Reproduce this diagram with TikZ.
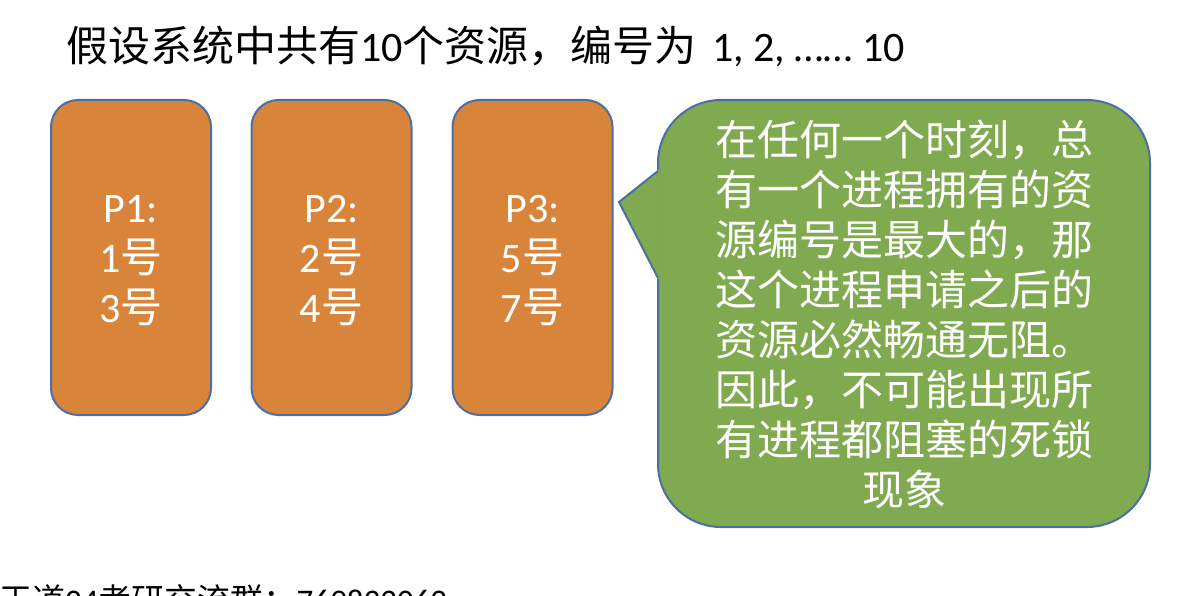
\documentclass[tikz,border=0pt]{standalone}
\usepackage{fontspec}
\setmainfont{Carlito}
\newfontfamily\cjk{Noto Sans CJK SC}
\definecolor{procfill}{HTML}{D8853B}
\definecolor{notefill}{HTML}{80AA4F}
\definecolor{edgeblue}{HTML}{4C6EA2}
\tikzset{
  procbox/.style={draw=edgeblue, line width=2pt, fill=procfill, rounded corners=27pt,
    minimum width=160pt, minimum height=315pt, inner sep=0pt},
  proctext/.style={text=white, align=center, inner sep=0pt,
    font=\fontsize{42}{50}\selectfont},
  notebox/.style={draw=edgeblue, line width=2pt, fill=notefill, rounded corners=63pt,
    minimum width=492pt, minimum height=427pt, inner sep=0pt},
  notetext/.style={text=white, align=center, inner sep=0pt,
    font=\cjk\fontsize{42}{50}\selectfont},
  titletext/.style={anchor=base west, inner sep=0pt, font=\fontsize{42}{50}\selectfont},
  foottext/.style={anchor=base west, inner sep=0pt, font=\fontsize{33}{38}\selectfont}
}
\begin{document}
\begin{tikzpicture}[x=1pt,y=-1pt]
\useasboundingbox (0,0) rectangle (1181,596);
\node[titletext] (title) at (66,62) {{\cjk 假设系统中共有}10{\cjk 个资源，编号为}\hspace{6pt} 1, 2, …… 10};
\node[procbox] (p1) at (131,257.5) {};
\node[procbox] (p2) at (331.5,257.5) {};
\node[procbox] (p3) at (532.5,257.5) {};
\node[proctext] (p1t) at ([yshift=-3pt]p1.center) {P1:\\1{\cjk 号}\\3{\cjk 号}};
\node[proctext] (p2t) at ([yshift=-3pt]p2.center) {P2:\\2{\cjk 号}\\4{\cjk 号}};
\node[proctext] (p3t) at ([yshift=-3pt]p3.center) {P3:\\5{\cjk 号}\\7{\cjk 号}};
\node[notebox] (note) at (904,313.5) {};
\coordinate (ptop) at (658,171);
\coordinate (pbot) at (658,278);
\coordinate (ptip) at (619,202);
\fill[notefill] (659.5,169) -- (ptip) -- (659.5,281) -- cycle;
\draw[edgeblue, line width=2pt, line join=miter] (ptop) -- (ptip) -- (pbot);
\node[notetext] (notet) at ([yshift=-1pt]note.center)
  {在任何一个时刻，总\\有一个进程拥有的资\\源编号是最大的，那\\这个进程申请之后的\\资源必然畅通无阻。\\因此，不可能出现所\\有进程都阻塞的死锁\\现象};
\begin{scope}
\clip (0,0) rectangle (1181,596);
\node[foottext] (foot) at (-1,612) {{\cjk 王道}24{\cjk 考研交流群：}769832062};
\end{scope}
\end{tikzpicture}
\end{document}
